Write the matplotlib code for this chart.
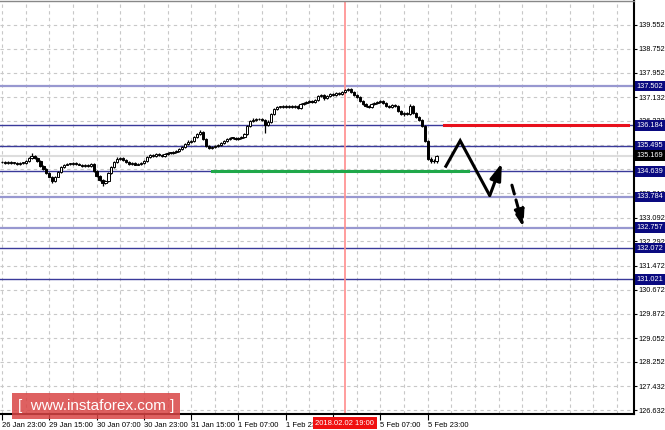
import numpy as np
import matplotlib
matplotlib.use("Agg")
import matplotlib.pyplot as plt
from matplotlib.patches import Rectangle
from matplotlib.transforms import blended_transform_factory

plt.rcParams['font.family'] = ['Liberation Sans', 'DejaVu Sans']

# ---- data (hourly bars, hour 0 = 26 Jan 23:00) ----
first_open = 134.95
closes = [
    134.97, 134.93, 134.97, 134.93, 134.93, 134.90, 134.93, 134.93, 135.00, 135.10,
    135.17, 135.10, 135.00, 134.83, 134.73, 134.60, 134.47, 134.33, 134.47, 134.63,
    134.80, 134.87, 134.90, 134.90, 134.93, 134.90, 134.87, 134.83, 134.87, 134.83,
    134.90, 134.67, 134.50, 134.36, 134.26, 134.33, 134.60, 134.80, 134.97, 135.07,
    135.10, 135.03, 134.97, 134.90, 134.93, 134.87, 134.90, 134.93, 135.00, 135.13,
    135.20, 135.17, 135.23, 135.20, 135.17, 135.23, 135.27, 135.27, 135.30, 135.33,
    135.40, 135.47, 135.57, 135.64, 135.67, 135.80, 135.90, 135.97, 135.74, 135.50,
    135.43, 135.47, 135.50, 135.53, 135.60, 135.67, 135.74, 135.77, 135.77, 135.74,
    135.77, 135.80, 135.90, 136.17, 136.34, 136.37, 136.40, 136.40, 136.37, 136.20,
    136.30, 136.57, 136.74, 136.81, 136.81, 136.84, 136.81, 136.84, 136.81, 136.84,
    136.77, 136.91, 136.94, 136.97, 137.01, 136.97, 137.04, 137.17, 137.21, 137.11,
    137.17, 137.24, 137.21, 137.27, 137.24, 137.31, 137.37, 137.41, 137.31, 137.21,
    137.14, 137.01, 136.91, 136.84, 136.81, 136.91, 136.94, 136.97, 137.01, 136.94,
    136.84, 136.81, 136.87, 136.84, 136.67, 136.57, 136.61, 136.57, 136.84, 136.61,
    136.47, 136.37, 136.17, 135.67, 135.07, 135.00, 134.98, 135.17,
]
# wick lengths in pips (0.01)
wick_up = [
    3, 2, 3, 2, 3, 2, 3, 2, 3, 4, 8, 3, 2, 2, 2, 2, 2, 2, 3, 3,
    3, 3, 3, 2, 3, 2, 2, 3, 3, 2, 3, 2, 2, 2, 2, 3, 3, 3, 3, 4,
    3, 3, 2, 3, 2, 3, 2, 3, 3, 4, 3, 3, 3, 3, 2, 3, 3, 2, 3, 3,
    3, 3, 3, 4, 3, 4, 4, 5, 2, 2, 3, 3, 3, 3, 3, 3, 3, 3, 3, 3,
    3, 3, 4, 4, 4, 5, 3, 3, 3, 2, 5, 4, 4, 3, 3, 3, 3, 3, 3, 3,
    2, 4, 3, 3, 3, 3, 4, 4, 4, 3, 3, 3, 3, 3, 3, 4, 4, 4, 2, 2,
    2, 2, 2, 2, 3, 3, 3, 3, 3, 3, 2, 3, 3, 3, 2, 2, 3, 3, 7, 3,
    3, 2, 2, 2, 3, 6, 5, 3,
]
wick_dn = [
    3, 3, 3, 3, 4, 3, 3, 3, 3, 3, 3, 3, 3, 3, 3, 4, 3, 8, 3, 3,
    3, 3, 3, 3, 3, 3, 3, 3, 3, 3, 3, 4, 4, 4, 10, 4, 3, 3, 3, 3,
    3, 3, 3, 3, 3, 3, 3, 3, 3, 3, 3, 3, 3, 3, 3, 3, 3, 3, 3, 3,
    3, 3, 3, 3, 3, 3, 3, 3, 3, 4, 5, 3, 3, 3, 3, 3, 3, 3, 3, 3,
    3, 3, 3, 3, 3, 3, 3, 3, 4, 26, 3, 3, 3, 3, 3, 3, 3, 3, 3, 3,
    4, 3, 3, 3, 3, 3, 3, 3, 4, 8, 3, 3, 3, 3, 3, 3, 3, 3, 3, 3,
    3, 3, 3, 4, 3, 3, 3, 3, 3, 3, 3, 3, 3, 3, 3, 4, 6, 3, 3, 3,
    3, 3, 3, 3, 4, 6, 6, 4,
]

levels_light = [137.502, 133.784, 132.757]
levels_dark = [136.184, 135.495, 134.639, 132.072, 131.021]
current_price = 135.169
red_level = 136.184
green_level = 134.639

yticks = [139.552, 138.752, 137.952, 137.132, 136.332, 135.512, 134.712, 133.912,
          133.092, 132.292, 131.472, 130.672, 129.872, 129.052, 128.252, 127.432, 126.632]
xtick_hours = [0, 16, 32, 48, 64, 80, 96, 112, 128, 144]
xtick_labels = ['26 Jan 23:00', '29 Jan 15:00', '30 Jan 07:00', '30 Jan 23:00',
                '31 Jan 15:00', '1 Feb 07:00', '1 Feb 23:00', '2 Feb 15:00',
                '5 Feb 07:00', '5 Feb 23:00']
marker_hour = 116
marker_label = '2018.02.02 19:00'

# forecast path (hours, price)
path_x = [149.9, 155.0, 165.0, 169.1]
path_y = [134.77, 135.67, 133.83, 134.92]
dash_x = [172.5, 176.4]
dash_y = [134.18, 132.77]

# ---- figure ----
fig = plt.figure(figsize=(6.65, 4.30), dpi=100)
ax = fig.add_axes([0.0, 0.0372, 0.9534, 0.9605])
ax.set_xlim(-0.68, 213.8)
ax.set_ylim(126.508, 140.355)

# grid
for h in np.arange(0, 214, 8):
    ax.axvline(h, color='#c8c8c8', lw=0.8, ls=(0, (3, 3)), zorder=0)
for t in yticks:
    ax.axhline(t, color='#c8c8c8', lw=0.8, ls=(0, (3, 3)), zorder=0)

# current price line
ax.axhline(current_price, color='#dddddd', lw=1.5, zorder=1)

# levels
for lv in levels_light:
    ax.axhline(lv, color='#9898d0', lw=1.6, zorder=1)
for lv in levels_dark:
    ax.axhline(lv, color='#3a3a9a', lw=1.0, zorder=1)

# vertical marker line
ax.axvline(marker_hour, color='#ff8c8c', lw=1.2, zorder=1)

# red / green levels
ax.plot([149.4, 211.8], [red_level, red_level], color='#e8101c', lw=2.2, zorder=3)
ax.plot([71.0, 157.6], [green_level, green_level], color='#20a84a', lw=2.2, zorder=3)

# candles
closes = np.array(closes)
opens = np.concatenate([[first_open], closes[:-1]])
hours = np.arange(len(closes))
top = np.maximum(opens, closes)
bot = np.minimum(opens, closes)
highs = top + np.array(wick_up) / 100
lows = bot - np.array(wick_dn) / 100
ax.vlines(hours, lows, highs, color='black', lw=0.9, zorder=4)
up = closes >= opens
body_h = np.maximum(top - bot, 0.015)
ax.bar(hours[up], body_h[up], bottom=bot[up], width=0.75, color='white',
       edgecolor='black', linewidth=0.7, zorder=5)
ax.bar(hours[~up], body_h[~up], bottom=bot[~up], width=0.75, color='black',
       edgecolor='black', linewidth=0.7, zorder=5)

# forecast arrows
ax.plot(path_x[:-1], path_y[:-1], color='black', lw=2.2, zorder=6,
        solid_capstyle='butt', solid_joinstyle='miter')
ax.annotate('', xy=(path_x[-1], path_y[-1]), xytext=(path_x[-2], path_y[-2]),
            arrowprops=dict(arrowstyle='-|>,head_length=1.0,head_width=0.33',
                            color='black', lw=2.2, shrinkA=0, shrinkB=0), zorder=6)
ax.annotate('', xy=(dash_x[1], dash_y[1]), xytext=(dash_x[0], dash_y[0]),
            arrowprops=dict(arrowstyle='-|>,head_length=1.0,head_width=0.33',
                            color='black', lw=2.2, ls=(0, (3, 2)),
                            shrinkA=0, shrinkB=0), zorder=6)

# axes styling
ax.spines['left'].set_visible(False)
ax.spines['top'].set_color('#888888')
ax.spines['top'].set_linewidth(1.0)
ax.spines['right'].set_color('black')
ax.spines['right'].set_linewidth(1.5)
ax.spines['bottom'].set_color('black')
ax.spines['bottom'].set_linewidth(1.5)

ax.yaxis.tick_right()
ax.set_yticks(yticks)
ax.set_yticklabels(['%.3f' % t for t in yticks])
ax.tick_params(axis='y', length=2, width=0.8, pad=1, labelsize=5.3, colors='black')
ax.set_xticks(xtick_hours)
ax.set_xticklabels(xtick_labels)
ax.tick_params(axis='x', length=4, width=0.8, pad=2, labelsize=5.5, colors='black')
for lab in ax.get_xticklabels():
    lab.set_horizontalalignment('left')

# level labels on the price scale
tr = blended_transform_factory(ax.transAxes, ax.transData)
for lv in levels_light + levels_dark:
    ax.text(1.004, lv, '%.3f' % lv, transform=tr, ha='left', va='center', fontsize=5.3,
            color='white', clip_on=False, zorder=10,
            bbox=dict(boxstyle='square,pad=0.25', fc='#0a0a80', ec='none'))
ax.text(1.004, current_price, '%.3f' % current_price, transform=tr, ha='left',
        va='center', fontsize=5.3, color='white', clip_on=False, zorder=10,
        bbox=dict(boxstyle='square,pad=0.25', fc='black', ec='none'))

# marker label on the time scale
trx = blended_transform_factory(ax.transData, ax.transAxes)
ax.text(marker_hour, -0.022, marker_label, transform=trx, ha='center', va='center',
        fontsize=5.5, color='white', clip_on=False, zorder=10,
        bbox=dict(boxstyle='square,pad=0.3', fc='#f01010', ec='none'))

# watermark
fig.patches.append(Rectangle((0.018, 0.0256), 0.2526, 0.0605, transform=fig.transFigure,
                             fc='#d94545', ec='none', alpha=0.85, zorder=20))
fig.text(0.144, 0.0558, '[  www.instaforex.com ]', ha='center', va='center',
         fontsize=11, color='white', zorder=21)

fig.savefig('out.png', dpi=100)
